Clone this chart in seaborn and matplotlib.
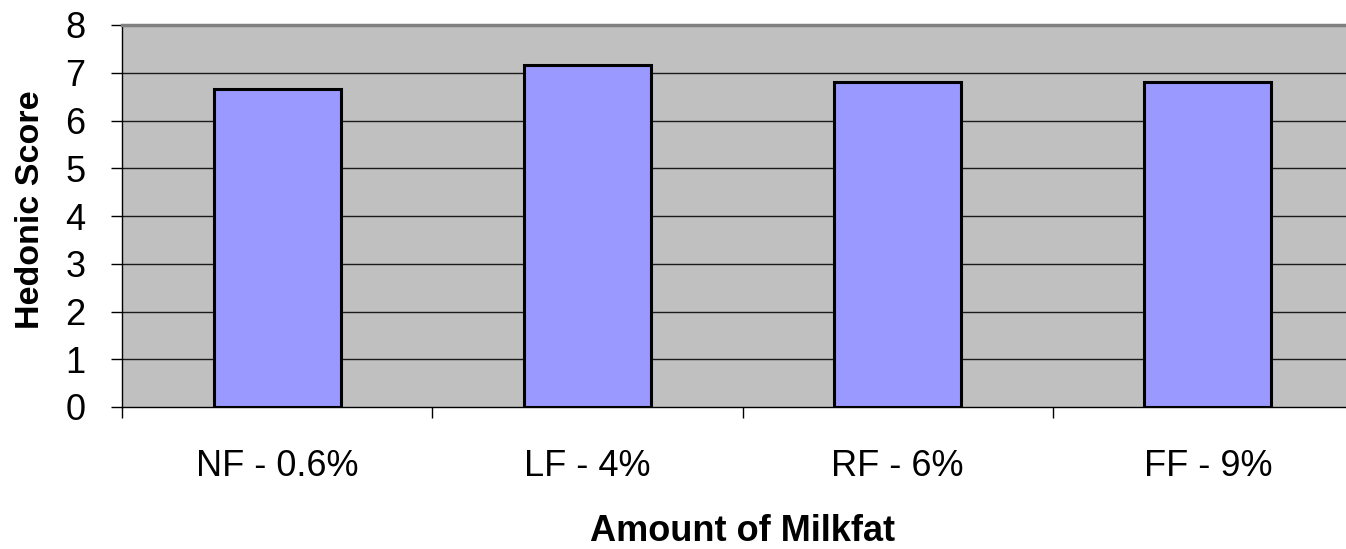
import matplotlib
matplotlib.use("Agg")
import matplotlib.pyplot as plt
import seaborn as sns
import pandas as pd
import numpy as np

categories = ["NF - 0.6%", "LF - 4%", "RF - 6%", "FF - 9%"]
scores = [6.67, 7.17, 6.8, 6.8]
y_ticks = [0, 1, 2, 3, 4, 5, 6, 7, 8]

sns.set_theme(style="white")
plt.rcParams['font.family'] = ['Liberation Sans', 'DejaVu Sans']
plt.rcParams['text.color'] = 'black'
plt.rcParams['axes.labelcolor'] = 'black'
plt.rcParams['xtick.color'] = 'black'
plt.rcParams['ytick.color'] = 'black'

df = pd.DataFrame({"cat": categories, "score": scores})

fig = plt.figure(figsize=(13.46, 5.49), dpi=100)
ax = fig.add_axes([122/1346, (549-407)/549, (1363-122)/1346, (407-25)/549])
ax.set_facecolor("#C0C0C0")

sns.barplot(data=df, x="cat", y="score", color="#9999FF", width=0.41,
            edgecolor="black", linewidth=2.2, saturation=1, ax=ax, zorder=3)

ax.set_xlim(-0.5, 3.5)
ax.set_ylim(0, 8)
ax.set_yticks(y_ticks)
ax.set_yticklabels([str(t) for t in y_ticks], fontsize=26)
for t in y_ticks[1:-1]:
    ax.axhline(t, color="#1a1a1a", linewidth=1.0, zorder=1)

ax.set_xticks(range(len(categories)))
ax.set_xticklabels(categories, fontsize=26)
ax.set_xticks(np.arange(-0.5, 3.6, 1), minor=True)
ax.tick_params(axis="x", which="major", length=0, pad=30, labelcolor="black")
ax.tick_params(axis="x", which="minor", length=8, width=1, color="black", direction="out", bottom=True)
ax.tick_params(axis="y", which="major", length=8, width=1, color="black", direction="out", left=True, pad=18.5, labelcolor="black")

for side in ["left", "bottom"]:
    ax.spines[side].set_color("black")
    ax.spines[side].set_linewidth(1.0)
ax.spines["top"].set_color("#808080")
ax.spines["top"].set_linewidth(2.5)
ax.spines["right"].set_visible(False)

ax.set_xlabel("Amount of Milkfat", fontsize=26, fontweight="bold", color="black")
ax.set_ylabel("Hedonic Score", fontsize=24.5, fontweight="bold", color="black")
ax.xaxis.set_label_coords(0.5, -(514-407)/382)
ax.yaxis.set_label_coords((46-122)/1241, (407-209.5)/382)

fig.savefig("out.png", dpi=100)
